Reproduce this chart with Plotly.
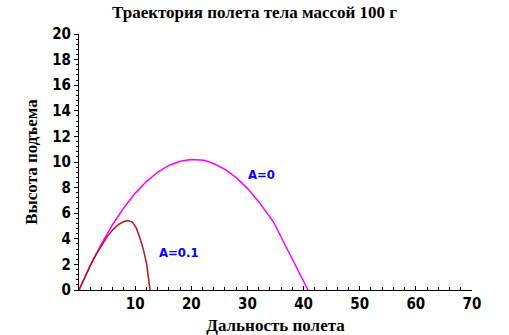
import plotly.graph_objects as go

# Trajectory without air resistance (A=0)
x_a0 = [0, 2, 4, 6, 8, 10, 12, 14, 16, 18, 20.0, 22.2, 24, 26, 28, 30, 32, 34.6, 40.8]
y_a0 = [0, 1.90, 3.61, 5.12, 6.43, 7.55, 8.47, 9.20, 9.73, 10.06, 10.2, 10.13,
        9.88, 9.43, 8.78, 7.94, 6.90, 5.35, 0]

# Trajectory with drag coefficient A=0.1
x_a01 = [0, 1, 2, 3, 4, 5, 6, 7, 8, 8.7, 9.5, 10.2, 10.9, 11.5, 12.06, 12.4, 12.65]
y_a01 = [0, 0.97, 1.90, 2.75, 3.5, 4.15, 4.7, 5.1, 5.35, 5.42, 5.3, 4.85, 4.0,
         3.1, 2.0, 1.0, 0]

x_ticks = [10, 20, 30, 40, 50, 60, 70]
y_ticks = [0, 2, 4, 6, 8, 10, 12, 14, 16, 18, 20]

curve_labels = [("A=0", 29.8, 9.0), ("A=0.1", 13.85, 2.9)]

sans_bold = "DejaVu Sans Condensed, Liberation Sans Narrow, Liberation Sans"
tick_font = dict(family=sans_bold, size=15, color="black", weight="bold")
serif_bold = dict(family="Liberation Serif, Times New Roman, serif",
                  size=17, color="black", weight="bold")

fig = go.Figure()
fig.add_trace(go.Scatter(x=x_a0, y=y_a0, mode="lines",
                         line=dict(color="#FF00FF", width=1.5), showlegend=False))
fig.add_trace(go.Scatter(x=x_a01, y=y_a01, mode="lines",
                         line=dict(color="#B8161C", width=1.5), showlegend=False))

for text, lx, ly in curve_labels:
    fig.add_annotation(x=lx, y=ly, text=text, showarrow=False, xanchor="left",
                       yanchor="middle",
                       font=dict(family=sans_bold, size=13, color="#0000FF",
                                 weight="bold"))

fig.update_layout(
    width=509, height=335,
    margin=dict(l=79, r=37, t=34, b=45),
    paper_bgcolor="white", plot_bgcolor="white",
    title=dict(text="Траектория полета тела массой 100 г", x=0.5, xanchor="center",
               y=1 - 12 / 335, yanchor="middle", font=serif_bold),
    xaxis=dict(range=[0, 70], tickvals=x_ticks, ticktext=[str(v) for v in x_ticks],
               automargin=False,
               showgrid=False, zeroline=False, showline=True, linecolor="black",
               linewidth=1, ticks="inside", ticklen=4, tickcolor="black",
               tickfont=tick_font,
               minor=dict(dtick=2, ticks="inside", ticklen=3, tickcolor="black"),
               title=dict(text="Дальность полета", font=serif_bold, standoff=8)),
    yaxis=dict(range=[0, 20], tickvals=y_ticks, ticktext=[str(v) for v in y_ticks],
               automargin=False,
               showgrid=False, zeroline=False, showline=True, linecolor="black",
               linewidth=1, ticks="outside", ticklen=4, tickcolor="black",
               tickfont=tick_font,
               minor=dict(dtick=0.4, ticks="outside", ticklen=2, tickcolor="black"),
               title=dict(text="Высота подъема", font=serif_bold, standoff=10)),
)

fig.write_html("out.html")
